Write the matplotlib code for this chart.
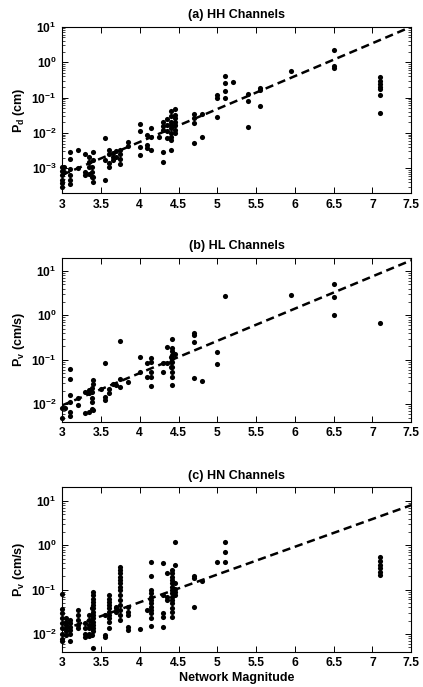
import numpy as np
import matplotlib
matplotlib.use('Agg')
import matplotlib.pyplot as plt

plt.rcParams['font.family'] = ['Liberation Sans', 'DejaVu Sans']
plt.rcParams['font.weight'] = 'bold'
plt.rcParams['mathtext.fontset'] = 'custom'
plt.rcParams['mathtext.rm'] = 'Liberation Sans:bold'
plt.rcParams['mathtext.it'] = 'Liberation Sans:bold'
plt.rcParams['mathtext.default'] = 'rm'

# (a) HH channels: network magnitude vs Pd (cm)
hh_mag = [3.0, 3.0, 3.0, 3.0, 3.0, 3.0,
          3.02, 3.02,
          3.1, 3.1, 3.1, 3.1, 3.1, 3.1,
          3.2, 3.2,
          3.3, 3.3, 3.3,
          3.35, 3.35, 3.35, 3.35,
          3.38, 3.38, 3.38,
          3.4, 3.4, 3.4, 3.4,
          3.55, 3.55, 3.55,
          3.6, 3.6, 3.6, 3.6,
          3.65, 3.65, 3.65,
          3.7, 3.7,
          3.75, 3.75, 3.75, 3.75,
          3.85, 3.85,
          4.0, 4.0, 4.0, 4.0,
          4.1, 4.1, 4.1,
          4.15, 4.15, 4.15,
          4.25,
          4.3, 4.3, 4.3, 4.3, 4.3,
          4.35, 4.35, 4.35, 4.35,
          4.4, 4.4, 4.4, 4.4, 4.4, 4.4, 4.4, 4.4, 4.4,
          4.45, 4.45, 4.45, 4.45, 4.45, 4.45, 4.45,
          4.7, 4.7, 4.7, 4.7,
          4.8, 4.8,
          5.0, 5.0, 5.0,
          5.1, 5.1, 5.1, 5.1,
          5.2,
          5.4, 5.4, 5.4,
          5.55, 5.55, 5.55,
          5.95,
          6.5, 6.5, 6.5,
          7.1, 7.1, 7.1, 7.1, 7.1, 7.1, 7.1]
hh_pd = [0.0011, 0.00086, 0.00064, 0.00047, 0.00038, 0.00030,
         0.0011, 0.00079,
         0.0028, 0.0018, 0.00093, 0.00064, 0.00047, 0.00036,
         0.0032, 0.0010,
         0.0026, 0.00079, 0.00064,
         0.0021, 0.0015, 0.0011, 0.00071,
         0.0011, 0.00079, 0.00058,
         0.0028, 0.0017, 0.00058, 0.00041,
         0.0071, 0.0017, 0.00047,
         0.0033, 0.0026, 0.0014, 0.0011,
         0.0027, 0.0021, 0.0017,
         0.0030, 0.0021,
         0.0032, 0.0026, 0.0018, 0.0013,
         0.0054, 0.0044,
         0.018, 0.0115, 0.0041, 0.0024,
         0.0089, 0.0046, 0.0037,
         0.0137, 0.0079, 0.0033,
         0.0079,
         0.020, 0.016, 0.012, 0.0028, 0.0015,
         0.024, 0.017, 0.011, 0.0071,
         0.041, 0.030, 0.021, 0.017, 0.0137, 0.0099, 0.0079, 0.0064, 0.0033,
         0.046, 0.033, 0.026, 0.021, 0.017, 0.012, 0.0099,
         0.035, 0.026, 0.019, 0.0051,
         0.035, 0.0079,
         0.116, 0.096, 0.029,
         0.41, 0.25, 0.155, 0.10,
         0.27,
         0.13, 0.082, 0.015,
         0.19, 0.16, 0.059,
         0.56,
         2.2, 0.78, 0.67,
         0.39, 0.29, 0.245, 0.20, 0.176, 0.12, 0.037]

# (b) HL channels: network magnitude vs Pv (cm/s)
hl_mag = [3.0, 3.0, 3.03,
          3.1, 3.1, 3.1, 3.1, 3.1, 3.1,
          3.2, 3.2,
          3.3, 3.3,
          3.35, 3.35, 3.35,
          3.38, 3.38, 3.38, 3.38, 3.38,
          3.4, 3.4, 3.4,
          3.5,
          3.55, 3.55, 3.55,
          3.6, 3.6,
          3.65, 3.7,
          3.75, 3.75, 3.75,
          3.85,
          4.0, 4.0,
          4.1, 4.1,
          4.15, 4.15, 4.15, 4.15, 4.15,
          4.3, 4.3,
          4.35, 4.35,
          4.4, 4.4, 4.4,
          4.42, 4.42, 4.42, 4.42, 4.42, 4.42, 4.42, 4.42, 4.42, 4.42,
          4.45,
          4.7, 4.7, 4.7, 4.7,
          4.8,
          5.0, 5.0,
          5.1,
          5.95,
          6.5, 6.5, 6.5,
          7.1]
hl_pv = [0.0083, 0.0049, 0.0083,
         0.061, 0.036, 0.0165, 0.0113, 0.0068, 0.0055,
         0.0135, 0.0095,
         0.019, 0.0064,
         0.021, 0.0175, 0.0068,
         0.0226, 0.019, 0.0141, 0.0113, 0.0077,
         0.035, 0.0285, 0.0073,
         0.0215,
         0.083, 0.0147, 0.0124,
         0.0225, 0.0175,
         0.028, 0.027,
         0.266, 0.036, 0.0245,
         0.032,
         0.113, 0.053,
         0.083, 0.040,
         0.107, 0.087, 0.053, 0.040, 0.025,
         0.083, 0.053,
         0.195, 0.083,
         0.116, 0.089, 0.069,
         0.29, 0.185, 0.155, 0.126, 0.107, 0.087, 0.069, 0.053, 0.041, 0.0277,
         0.138,
         0.40, 0.36, 0.25, 0.038,
         0.034,
         0.15, 0.082,
         2.7,
         2.9,
         5.1, 2.6, 1.04,
         0.69]

# (c) HN channels: network magnitude vs Pv (cm/s)
hn_mag = [3.0, 3.0, 3.0, 3.0, 3.0, 3.0, 3.0, 3.0, 3.0,
          3.05, 3.05, 3.05, 3.05, 3.05, 3.05,
          3.1, 3.1, 3.1, 3.1, 3.1, 3.1,
          3.2, 3.2, 3.2, 3.2, 3.2,
          3.3, 3.3, 3.3, 3.3,
          3.35, 3.35, 3.35, 3.35, 3.35, 3.35,
          3.38, 3.38, 3.38, 3.38, 3.38,
          3.4, 3.4, 3.4, 3.4, 3.4, 3.4, 3.4, 3.4, 3.4, 3.4, 3.4, 3.4, 3.4, 3.4,
          3.55, 3.55, 3.55,
          3.6, 3.6, 3.6, 3.6, 3.6, 3.6, 3.6, 3.6, 3.6, 3.6,
          3.7, 3.7, 3.7,
          3.75, 3.75, 3.75, 3.75, 3.75, 3.75, 3.75, 3.75, 3.75, 3.75, 3.75, 3.75, 3.75, 3.75,
          3.85, 3.85, 3.85, 3.85, 3.85,
          4.0, 4.1,
          4.15, 4.15, 4.15, 4.15, 4.15, 4.15, 4.15, 4.15, 4.15, 4.15, 4.15, 4.15,
          4.3, 4.3, 4.3, 4.3, 4.3,
          4.35, 4.35, 4.35,
          4.42, 4.42, 4.42, 4.42, 4.42, 4.42, 4.42, 4.42, 4.42, 4.42, 4.42, 4.42, 4.42, 4.42,
          4.45, 4.45, 4.45, 4.45, 4.45, 4.45,
          4.7, 4.7, 4.7,
          4.8,
          5.0,
          5.1, 5.1, 5.1,
          7.1, 7.1, 7.1, 7.1, 7.1, 7.1]
hn_pv = [0.078, 0.036, 0.029, 0.023, 0.0175, 0.0135, 0.0102, 0.0079, 0.0068,
         0.023, 0.019, 0.0161, 0.0135, 0.0114, 0.0095,
         0.021, 0.0175, 0.0146, 0.0123, 0.0102, 0.0069,
         0.035, 0.027, 0.021, 0.0161, 0.0135,
         0.0175, 0.0135, 0.0102, 0.0085,
         0.027, 0.021, 0.0161, 0.0135, 0.0102, 0.0088,
         0.038, 0.027, 0.019, 0.0135, 0.0095,
         0.089, 0.075, 0.063, 0.053, 0.045, 0.038, 0.032, 0.027, 0.0225, 0.019, 0.0161, 0.0135, 0.0114, 0.0049,
         0.027, 0.0095, 0.0085,
         0.075, 0.063, 0.053, 0.045, 0.038, 0.032, 0.027, 0.0225, 0.019, 0.0135,
         0.041, 0.038, 0.032,
         0.327, 0.275, 0.232, 0.195, 0.164, 0.138, 0.116, 0.098, 0.075, 0.058, 0.045, 0.035, 0.027, 0.021,
         0.041, 0.032, 0.027, 0.0146, 0.0123,
         0.0127, 0.035,
         0.41, 0.20, 0.098, 0.082, 0.069, 0.058, 0.049, 0.041, 0.035, 0.029, 0.023, 0.0152,
         0.40, 0.075, 0.029, 0.0245, 0.0146,
         0.232, 0.069, 0.058,
         0.275, 0.232, 0.195, 0.164, 0.138, 0.116, 0.098, 0.082, 0.069, 0.058, 0.049, 0.038, 0.032, 0.0245,
         1.19, 0.356, 0.138, 0.106, 0.089, 0.075,
         0.205, 0.18, 0.041,
         0.158,
         0.41,
         1.19, 0.71, 0.42,
         0.55, 0.44, 0.356, 0.30, 0.252, 0.212]

# log10 fit lines: log10(P) = slope * M + intercept
fit_slope = [0.93, 0.726, 0.625]
fit_intercept = [-5.975, -4.205, -3.785]

titles = ['(a) HH Channels', '(b) HL Channels', '(c) HN Channels']
ylabels = ['P$_d$ (cm)', 'P$_v$ (cm/s)', 'P$_v$ (cm/s)']
ylims = [(2e-4, 10), (4e-3, 20), (4e-3, 20)]
xticks = [3, 3.5, 4, 4.5, 5, 5.5, 6, 6.5, 7, 7.5]
xticklabels = ['3', '3.5', '4', '4.5', '5', '5.5', '6', '6.5', '7', '7.5']

fig = plt.figure(figsize=(4.23, 6.87), dpi=100)
boxes = [[0.147, 0.719, 0.825, 0.242],
         [0.147, 0.386, 0.825, 0.239],
         [0.147, 0.0514, 0.825, 0.239]]

series = [(hh_mag, hh_pd), (hl_mag, hl_pv), (hn_mag, hn_pv)]
for i in range(3):
    ax = fig.add_axes(boxes[i])
    mag, val = series[i]
    ax.plot(mag, val, 'o', color='black', markersize=3.7, markeredgewidth=0,
            clip_on=False, zorder=3)
    xf = np.array([3.0, 7.5])
    ax.plot(xf, 10 ** (fit_slope[i] * xf + fit_intercept[i]), '--', color='black',
            linewidth=1.8, dashes=(3.3, 1.9))
    ax.set_yscale('log')
    ax.set_xlim(3, 7.5)
    ax.set_ylim(*ylims[i])
    ax.set_xticks(xticks)
    ax.set_xticklabels(xticklabels)
    ax.tick_params(which='both', direction='in', top=True, right=True, labelsize=8.7)
    ax.tick_params(which='major', length=4, width=0.7, pad=4)
    ax.tick_params(which='minor', length=2, width=0.5)
    for sp in ax.spines.values():
        sp.set_linewidth(0.8)
    ax.set_title(titles[i], fontsize=9, fontweight='bold', pad=6)
    ax.set_ylabel(ylabels[i], fontsize=9, fontweight='bold', labelpad=3)
    if i == 2:
        ax.set_xlabel('Network Magnitude', fontsize=9, fontweight='bold', labelpad=2)

fig.savefig('out.png', dpi=100)
